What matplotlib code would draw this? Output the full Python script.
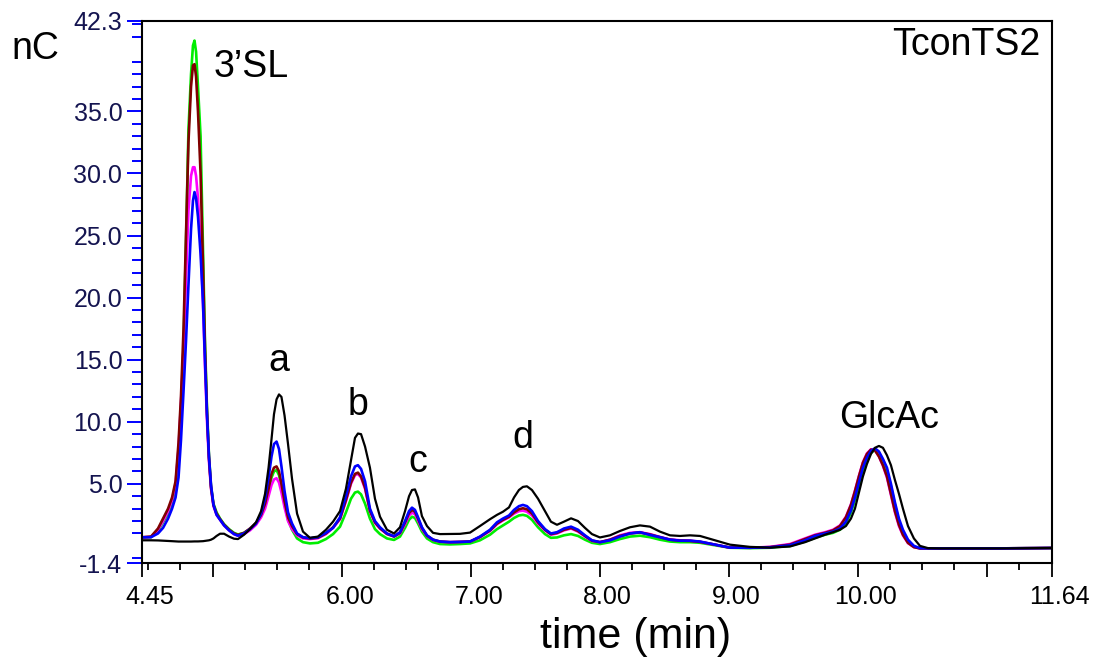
import matplotlib
matplotlib.use('Agg')
import matplotlib.pyplot as plt
from matplotlib.transforms import ScaledTranslation

# ---------------- data (time in min, signal in nC) ----------------
time_min = [
    4.450, 4.522, 4.576, 4.615, 4.654, 4.685, 4.712, 4.735, 4.754, 4.774,
    4.793, 4.812, 4.832, 4.847, 4.859, 4.871, 4.886, 4.906, 4.925, 4.940,
    4.956, 4.971, 4.987, 5.006, 5.030, 5.057, 5.088, 5.127, 5.165, 5.196,
    5.243, 5.289, 5.336, 5.375, 5.406, 5.433, 5.456, 5.475, 5.495, 5.514,
    5.533, 5.557, 5.584, 5.615, 5.654, 5.700, 5.754, 5.816, 5.878, 5.933, 5.987,
    6.033, 6.072, 6.103, 6.126, 6.150, 6.181, 6.219, 6.258, 6.297, 6.351, 6.406,
    6.452, 6.491, 6.522, 6.545, 6.568, 6.592, 6.622, 6.661, 6.708, 6.762,
    6.840, 6.917, 6.995,
    7.072, 7.150, 7.204, 7.250, 7.297, 7.336, 7.374, 7.405, 7.436, 7.475,
    7.522, 7.576, 7.622, 7.669, 7.723, 7.778, 7.832, 7.886, 7.940, 8.002,
    8.080, 8.157, 8.235, 8.312, 8.390, 8.467,
    8.545, 8.623, 8.700, 8.778, 8.894, 9.010, 9.165, 9.320, 9.475, 9.592,
    9.669, 9.747, 9.809, 9.863, 9.909, 9.948, 9.979, 10.010, 10.041, 10.072,
    10.103, 10.134, 10.165, 10.196, 10.227, 10.258, 10.289, 10.320, 10.351, 10.390,
    10.436, 10.483, 10.545, 10.638, 10.793, 11.103, 11.504,
]

green = [
    0.69, 0.70, 1.2, 1.9, 2.6, 3.5, 4.7, 7.0, 10.5, 16.0, 24.5, 33.5, 38.0, 40.3, 40.7,
    39.8, 37.0, 33.0, 24.0, 16.5, 11.0, 7.3, 4.8, 3.4, 2.7, 2.2, 1.75, 1.35, 1.05, 0.92,
    1.05, 1.35, 1.8, 2.45, 3.3, 4.4, 5.5, 6.0, 6.1, 5.7, 4.8, 3.4, 2.1, 1.3, 0.6, 0.3,
    0.2, 0.25, 0.55, 0.95, 1.55,
    2.7, 3.8, 4.3, 4.37, 4.15, 3.4, 2.2, 1.35, 0.95, 0.6, 0.48,
    0.75, 1.45, 2.1, 2.35, 2.25, 1.8, 1.15, 0.6, 0.3, 0.15, 0.12, 0.15, 0.2,
    0.45, 0.9, 1.35, 1.65, 1.95, 2.25, 2.45, 2.5, 2.42, 2.1, 1.5, 0.95, 0.65, 0.68,
    0.85, 0.95, 0.8, 0.5, 0.25, 0.15, 0.3, 0.55, 0.75, 0.82, 0.7, 0.5,
    0.35, 0.3, 0.3, 0.25, 0.05, -0.15, -0.18, -0.15, 0.0, 0.35, 0.65, 0.9, 1.05, 1.3,
    1.8, 2.7, 3.7, 4.9, 6.0, 6.9, 7.5, 7.72, 7.5, 6.9, 6.1, 4.8, 3.3, 2.0, 1.1, 0.4,
    -0.05, -0.2, -0.2, -0.2, -0.2, -0.2, -0.17,
]

darkred = [
    0.69, 0.75, 1.4, 2.2, 3.0, 3.9, 5.2, 8.3, 12.0, 17.5, 25.0, 32.5, 37.0, 38.7, 38.8,
    37.8, 35.0, 30.0, 22.5, 16.0, 10.7, 7.1, 4.7, 3.3, 2.6, 2.15, 1.7, 1.3, 1.0, 0.88,
    1.05, 1.4, 1.85, 2.5, 3.4, 4.6, 5.8, 6.3, 6.4, 6.0, 5.0, 3.6, 2.3, 1.6, 0.95, 0.68,
    0.6, 0.66, 1.0, 1.5, 2.2,
    3.7, 5.1, 5.8, 5.9, 5.6, 4.7, 2.85, 1.9, 1.42, 0.97, 0.76,
    1.05, 1.9, 2.65, 2.9, 2.75, 2.2, 1.45, 0.82, 0.5, 0.35, 0.3, 0.32, 0.35,
    0.72, 1.25, 1.8, 2.1, 2.35, 2.7, 2.95, 3.03, 2.95, 2.6, 1.9, 1.3, 0.95, 1.05,
    1.3, 1.45, 1.2, 0.8, 0.42, 0.3, 0.5, 0.8, 1.0, 1.08, 0.92, 0.7,
    0.5, 0.42, 0.4, 0.32, 0.1, -0.14, -0.15, -0.1, 0.1, 0.55, 0.85, 1.05, 1.25, 1.6,
    2.3, 3.3, 4.4, 5.6, 6.7, 7.4, 7.75, 7.7, 7.2, 6.5, 5.6, 4.2, 2.8, 1.7, 0.9, 0.25,
    -0.1, -0.2, -0.2, -0.2, -0.2, -0.2, -0.17,
]

magenta = [
    0.69, 0.72, 1.3, 2.0, 2.8, 3.7, 5.0, 7.8, 11.5, 16.0, 21.5, 27.0, 29.8, 30.5, 30.5,
    29.8, 28.0, 24.5, 19.5, 14.5, 10.0, 6.8, 4.6, 3.2, 2.5, 2.1, 1.65, 1.25, 0.95, 0.82,
    0.95, 1.25, 1.7, 2.3, 3.0, 4.0, 4.9, 5.35, 5.45, 5.1, 4.3, 3.1, 2.0, 1.35, 0.85, 0.6,
    0.55, 0.62, 0.95, 1.45, 2.15,
    3.6, 5.0, 5.7, 5.8, 5.5, 4.6, 2.8, 1.85, 1.4, 0.95, 0.75,
    1.0, 1.75, 2.45, 2.67, 2.55, 2.05, 1.35, 0.8, 0.48, 0.33, 0.3, 0.32, 0.35,
    0.7, 1.2, 1.75, 2.05, 2.3, 2.6, 2.8, 2.84, 2.75, 2.45, 1.8, 1.25, 0.9, 1.0,
    1.25, 1.4, 1.15, 0.75, 0.4, 0.3, 0.5, 0.85, 1.05, 1.1, 0.95, 0.72,
    0.52, 0.45, 0.42, 0.33, 0.1, -0.14, -0.15, -0.08, 0.15, 0.6, 0.9, 1.1, 1.3, 1.65,
    2.35, 3.35, 4.45, 5.65, 6.75, 7.45, 7.78, 7.7, 7.2, 6.45, 5.5, 4.1, 2.7, 1.6, 0.85, 0.22,
    -0.1, -0.2, -0.2, -0.2, -0.2, -0.2, -0.17,
]

blue = [
    0.69, 0.70, 1.0, 1.45, 2.2, 3.0, 3.9, 5.5, 8.5, 12.5, 16.5, 21.0, 25.5, 27.8, 28.5,
    28.0, 26.5, 23.5, 19.5, 15.0, 10.5, 7.2, 4.9, 3.3, 2.5, 2.1, 1.65, 1.25, 0.95, 0.82,
    1.0, 1.35, 1.8, 2.6, 3.8, 5.5, 7.2, 8.2, 8.4, 7.8, 6.4, 4.4, 2.7, 1.8, 1.0, 0.7,
    0.62, 0.7, 1.05, 1.45, 2.3,
    4.0, 5.6, 6.4, 6.5, 6.2, 5.2, 3.0, 2.0, 1.5, 1.0, 0.78,
    1.1, 2.0, 2.8, 3.08, 2.9, 2.3, 1.5, 0.85, 0.5, 0.35, 0.3, 0.32, 0.35,
    0.75, 1.3, 1.9, 2.2, 2.45, 2.9, 3.2, 3.3, 3.2, 2.8, 2.0, 1.35, 1.0, 1.1,
    1.4, 1.55, 1.3, 0.85, 0.45, 0.3, 0.45, 0.75, 1.0, 1.1, 0.88, 0.7,
    0.5, 0.42, 0.42, 0.35, 0.1, -0.14, -0.15, -0.12, 0.05, 0.45, 0.8, 1.0, 1.15, 1.4,
    1.95, 2.85, 3.9, 5.1, 6.3, 7.1, 7.65, 7.86, 7.6, 7.0, 6.3, 5.0, 3.5, 2.2, 1.3, 0.5,
    0.0, -0.18, -0.2, -0.2, -0.2, -0.2, -0.17,
]

black = [
    0.45, 0.45, 0.44, 0.42, 0.40, 0.38, 0.36, 0.35, 0.35, 0.35, 0.35, 0.35, 0.35, 0.36, 0.36,
    0.36, 0.36, 0.37, 0.38, 0.40, 0.42, 0.45, 0.50, 0.60, 0.80, 0.98, 0.98, 0.75, 0.58, 0.55,
    0.9, 1.35, 1.9, 2.8, 4.2, 6.3, 8.6, 10.6, 11.8, 12.2, 12.0, 10.5, 8.2, 5.4, 2.6, 1.15,
    0.65, 0.75, 1.3, 1.95, 2.8,
    4.6, 6.9, 8.7, 9.05, 9.0, 8.0, 6.3, 3.8, 2.35, 1.3, 1.0,
    1.5, 2.8, 4.0, 4.5, 4.55, 3.9, 2.4, 1.6, 1.05, 0.95, 0.96, 0.97, 1.07,
    1.6, 2.15, 2.5, 2.75, 3.1, 3.9, 4.5, 4.75, 4.8, 4.5, 3.8, 2.8, 1.95, 1.7,
    1.95, 2.22, 2.0, 1.45, 0.95, 0.68, 0.85, 1.2, 1.5, 1.65, 1.55, 1.15,
    0.85, 0.8, 0.85, 0.8, 0.45, 0.1, -0.08, -0.14, -0.05, 0.3, 0.6, 0.9, 1.1, 1.3,
    1.6, 2.2, 3.0, 4.3, 5.6, 6.6, 7.4, 7.9, 8.05, 7.9, 7.3, 6.5, 5.3, 4.2, 3.0, 1.6,
    0.6, 0.0, -0.18, -0.2, -0.2, -0.2, -0.17,
]

x_start, x_end = 4.45, 11.504
y_min, y_max = -1.4, 42.3
x_major = [4.45, 5.0, 6.0, 7.0, 8.0, 9.0, 10.0, 11.0, 11.504]
x_major_labels = ['4.45', '', '6.00', '7.00', '8.00', '9.00', '10.00', '', '11.64']
y_major = [-1.4, 5.0, 10.0, 15.0, 20.0, 25.0, 30.0, 35.0, 42.3]
y_major_labels = ['-1.4', '5.0', '10.0', '15.0', '20.0', '25.0', '30.0', '35.0', '42.3']

peak_labels = [('a', 5.514, 14.09), ('b', 6.129, 10.54), ('c', 6.588, 5.98),
               ('d', 7.405, 7.86), ('GlcAc', 10.247, 9.47)]

# ---------------- figure ----------------
fig = plt.figure(figsize=(11.04, 6.64), dpi=100)
ax = fig.add_axes([0.1284, 0.1517, 0.8242, 0.8171])

series = [(green, '#00ee00'), (magenta, '#ff00ff'), (darkred, '#800000'),
          (blue, '#0000ff'), (black, '#000000')]
for vals, col in series:
    ax.plot(time_min, vals, color=col, lw=1.9 if col != '#000000' else 1.6,
            solid_joinstyle='round')

ax.set_xlim(x_start, x_end)
ax.set_ylim(y_min, y_max)

ax.set_xticks(x_major)
ax.set_xticklabels(x_major_labels)
ax.set_xticks([4.5 + 0.25 * i for i in range(28) if (4.5 + 0.25 * i) % 1 != 0], minor=True)
ax.set_yticks(y_major)
ax.set_yticklabels(y_major_labels)
ax.set_yticks([v for v in range(-1, 43) if v % 5 != 0], minor=True)

ax.tick_params(axis='x', which='major', direction='out', length=10, width=1.3,
               color='black', labelsize=18, pad=6, labelcolor='black')
ax.tick_params(axis='x', which='minor', direction='out', length=5, width=1.3, color='black')
ax.tick_params(axis='y', which='major', direction='out', length=11, width=1.4,
               color='#0000ff', labelsize=18, pad=3, labelcolor='#141450')
ax.tick_params(axis='y', which='minor', direction='out', length=7, width=1.4, color='#0000ff')

for lab in ax.get_xticklabels():
    lab.set_family('Liberation Sans')
    lab.set_transform(lab.get_transform() + ScaledTranslation(0.08, 0, fig.dpi_scale_trans))
for lab in ax.get_yticklabels():
    lab.set_family('Liberation Sans')

for sp in ax.spines.values():
    sp.set_linewidth(1.5)
    sp.set_color('black')

txt = dict(family='Liberation Sans', fontsize=27, color='black')
for name, xx, yy in peak_labels:
    ax.text(xx, yy, name, ha='center', va='baseline', **txt)
ax.text(5.005, 37.79, '3\u2019SL', ha='left', va='baseline', **txt)
ax.text(11.413, 39.54, 'TconTS2', ha='right', va='baseline', **txt)

fig.text(0.0106, 0.9107, 'nC', ha='left', va='baseline', **txt)
fig.text(0.576, 0.024, 'time (min)', ha='center', va='baseline',
         family='Liberation Sans', fontsize=31, color='black')

fig.savefig('out.png', dpi=100)
